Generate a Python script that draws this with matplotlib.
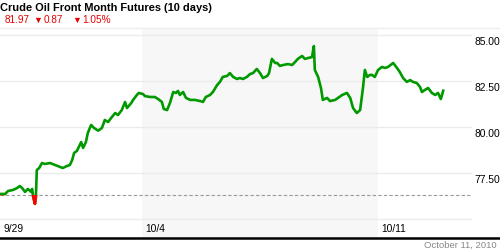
import numpy as np
import matplotlib
matplotlib.use('Agg')
import matplotlib.pyplot as plt
from matplotlib.patches import Rectangle
from matplotlib.lines import Line2D

plt.rcParams['font.family'] = ['Liberation Sans', 'DejaVu Sans']

#%% data (x = trading days since 9/29 open, y = price)
days = [0.00, 0.11, 0.17, 0.28, 0.36, 0.42, 0.47, 0.53, 0.59, 0.66, 0.68, 0.70, 0.74, 0.76,
        0.78, 0.83, 0.89, 0.95, 1.06, 1.17, 1.27, 1.33, 1.42, 1.48, 1.53, 1.57, 1.63, 1.72,
        1.76, 1.82, 1.86, 1.93, 1.99, 2.08, 2.16, 2.22, 2.29, 2.37, 2.44, 2.50, 2.58, 2.65,
        2.69, 2.78, 2.82, 2.90, 2.94, 3.03, 3.07, 3.18, 3.28, 3.35, 3.43, 3.47, 3.54, 3.60,
        3.67, 3.73, 3.77, 3.81, 3.88, 3.94, 4.03, 4.13, 4.24, 4.30, 4.36, 4.45, 4.51, 4.60,
        4.66, 4.72, 4.81, 4.87, 4.94, 5.02, 5.08, 5.15, 5.23, 5.30, 5.36, 5.44, 5.51, 5.57,
        5.66, 5.70, 5.76, 5.83, 5.87, 5.93, 6.00, 6.10, 6.19, 6.25, 6.31, 6.40, 6.46, 6.53,
        6.61, 6.65, 6.67, 6.74, 6.80, 6.84, 6.93, 6.99, 7.10, 7.16, 7.25, 7.35, 7.42, 7.48,
        7.56, 7.63, 7.69, 7.73, 7.78, 7.84, 7.88, 7.94, 8.01, 8.09, 8.16, 8.22, 8.33, 8.41,
        8.47, 8.54, 8.62, 8.69, 8.75, 8.83, 8.90, 8.94, 9.00, 9.07, 9.15, 9.22, 9.28, 9.34,
        9.39]
price = [76.36, 76.36, 76.52, 76.58, 76.68, 76.79, 76.68, 76.47, 76.63, 76.47, 76.63, 76.25, 75.82, 76.20,
         77.66, 77.77, 78.04, 77.99, 78.04, 77.93, 77.83, 77.77, 77.88, 77.93, 78.21, 78.59, 78.70, 79.18,
         78.86, 79.18, 79.67, 80.11, 79.95, 79.80, 79.95, 80.38, 80.27, 80.54, 80.76, 80.65, 80.92, 81.36,
         81.03, 81.30, 81.47, 81.74, 81.85, 81.79, 81.68, 81.63, 81.63, 81.52, 81.36, 80.98, 80.92, 81.30,
         81.90, 81.85, 81.96, 81.74, 81.90, 81.58, 81.47, 81.47, 81.41, 81.36, 81.63, 81.74, 81.90, 82.28,
         82.45, 82.72, 82.77, 82.93, 82.72, 82.61, 82.66, 82.61, 82.72, 82.88, 82.93, 83.15, 82.93, 82.66,
         82.77, 82.93, 83.70, 83.48, 83.48, 83.32, 83.37, 83.42, 83.37, 83.53, 83.70, 83.86, 83.70, 83.75,
         83.80, 84.40, 83.10, 82.72, 82.12, 81.47, 81.58, 81.41, 81.47, 81.58, 81.74, 81.85, 81.58, 81.03,
         80.76, 80.92, 82.12, 83.10, 82.72, 82.83, 82.83, 82.72, 83.10, 83.26, 83.21, 83.26, 83.48, 83.21,
         82.99, 82.66, 82.45, 82.55, 82.45, 82.39, 82.17, 81.90, 82.01, 82.12, 81.85, 81.74, 81.85, 81.52,
         81.97]

base_price = 76.30          # dashed reference line
y_ticks = [75.0, 77.5, 80.0, 82.5, 85.0]
y_labels = ['', '77.50', '80.00', '82.50', '85.00']
x_ticks = [0, 3, 8]
x_labels = ['9/29', '10/4', '10/11']
shade_week = (3, 8)
title = 'Crude Oil Front Month Futures (10 days)'
quote = ['81.97', '\u25bc', '0.87', '\u25bc', '1.05%']
date_str = 'October 11, 2010'

#%%
fig = plt.figure(figsize=(5, 2.5), dpi=100)
ax = fig.add_axes([0, 0.052, 0.944, 0.836])
ax.set_xlim(0, 10)
ax.set_ylim(74.02, 85.38)
ax.axis('off')

ax.axvspan(shade_week[0], shade_week[1], color='#f7f7f7', zorder=0, lw=0)
for v in y_ticks:
    ax.axhline(v, color='#ebebeb', lw=1.0, zorder=1)
ax.axhline(base_price, color='#999999', lw=0.8, ls=(0, (3, 2)), zorder=2)

ax.plot(days, price, color='#009900', lw=1.9, zorder=3, solid_joinstyle='round')
# red part below the reference line
red, = ax.plot(days, price, color='#ff0000', lw=1.9, zorder=4, solid_joinstyle='round')
clip = Rectangle((0, 70), 10, base_price - 70, transform=ax.transData)
red.set_clip_path(clip)

for v, lab in zip(y_ticks, y_labels):
    ax.text(1.005, v - 0.13, lab, transform=ax.get_yaxis_transform(), ha='left', va='top',
            fontsize=7.4, color='black', clip_on=False)
for d, lab in zip(x_ticks, x_labels):
    ax.text(d + 0.07, 0.04, lab, transform=ax.get_xaxis_transform(), ha='left', va='center',
            fontsize=7.4, color='black')

#%% header / footer
fig.text(0.0, 1 - 8 / 250, title, fontsize=7.9, fontweight='bold', ha='left', va='center')
qx = [5, 33, 44, 72, 82]
for x, s in zip(qx, quote):
    fig.text(x / 500, 1 - 20 / 250, s, fontsize=7.2 if s != '\u25bc' else 6.5, color='#e60000',
             ha='left', va='center')
fig.add_artist(Line2D([0, 1], [1 - 28 / 250] * 2, color='#eeeeee', lw=1))
fig.add_artist(Line2D([0, 1], [1 - 237.5 / 250] * 2, color='black', lw=1.8))
fig.text(497 / 500, 1 - 245 / 250, date_str, fontsize=6.8, color='#888888', ha='right', va='center')

fig.savefig('out.png', dpi=100)
